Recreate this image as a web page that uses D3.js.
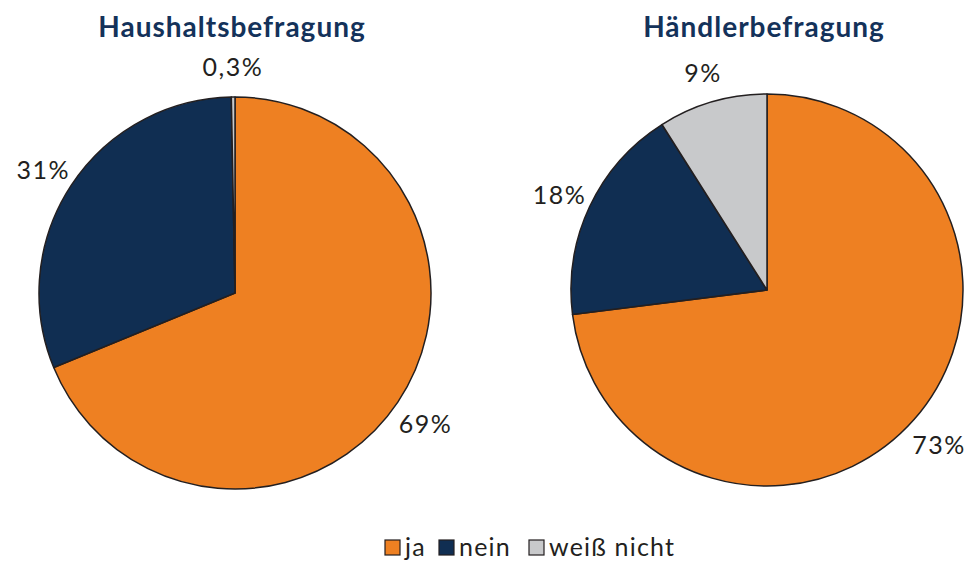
<!DOCTYPE html>
<html>
<head>
<meta charset="utf-8">
<script src="https://cdn.jsdelivr.net/npm/d3@7"></script>
<style>
  body { margin: 0; background: #fff; }
  text { font-family: Lato, "Noto Sans", sans-serif; }
</style>
</head>
<body>
<div id="chart"></div>
<script>
const categories = ['ja', 'nein', 'weiß nicht'];
const titles = ['Haushaltsbefragung', 'Händlerbefragung'];
const haushaltValues = [69, 31, 0.3];
const haendlerValues = [73, 18, 9];
const haushaltLabels = ['69%', '31%', '0,3%'];
const haendlerLabels = ['73%', '18%', '9%'];
const colors = ['#ee8022', '#102e52', '#c8c9cb'];

const width = 973;
const height = 561;
const radius = 196;

const svg = d3.select('#chart').append('svg')
  .attr('width', width)
  .attr('height', height);

const color = d3.scaleOrdinal()
  .domain(categories)
  .range(colors);

const pie = d3.pie()
  .sort(null)
  .value(d => d.value);

const arc = d3.arc()
  .innerRadius(0)
  .outerRadius(radius);

const labelArc = d3.arc()
  .innerRadius(radius * 1.17)
  .outerRadius(radius * 1.17);

const charts = [
  {title: titles[0], values: haushaltValues, labels: haushaltLabels, cx: 235, cy: 293},
  {title: titles[1], values: haendlerValues, labels: haendlerLabels, cx: 767, cy: 290}
];

charts.forEach(chart => {
  const data = categories.map((c, i) => ({key: c, value: chart.values[i], label: chart.labels[i]}));

  svg.append('text')
    .attr('x', chart.cx - 3)
    .attr('y', 37)
    .attr('text-anchor', 'middle')
    .attr('font-size', 28)
    .attr('font-weight', 'bold')
    .attr('letter-spacing', 1)
    .attr('fill', '#14325a')
    .text(chart.title);

  const g = svg.append('g')
    .attr('transform', 'translate(' + chart.cx + ',' + chart.cy + ')');

  const arcs = pie(data);

  g.selectAll('path')
    .data(arcs)
    .enter()
    .append('path')
    .attr('d', arc)
    .attr('fill', d => color(d.data.key))
    .attr('stroke', '#231f20')
    .attr('stroke-width', 1.5)
    .attr('stroke-linejoin', 'round');

  g.selectAll('.label')
    .data(arcs)
    .enter()
    .append('text')
    .attr('class', 'label')
    .attr('transform', d => {
      const [x, y] = labelArc.centroid(d);
      return 'translate(' + x + ',' + (y + 12) + ')';
    })
    .attr('text-anchor', 'middle')
    .attr('font-size', 25)
    .attr('letter-spacing', 1.5)
    .attr('fill', '#231f20')
    .text(d => d.data.label);
});

// legend
const legendX = [385, 439, 529];
const legend = svg.append('g')
  .attr('transform', 'translate(0,540)');

const item = legend.selectAll('g')
  .data(categories)
  .enter()
  .append('g')
  .attr('transform', (d, i) => 'translate(' + legendX[i] + ',0)');

item.append('rect')
  .attr('width', 15)
  .attr('height', 15)
  .attr('fill', d => color(d))
  .attr('stroke', '#231f20')
  .attr('stroke-width', 1.2);

item.append('text')
  .attr('x', 20)
  .attr('y', 16)
  .attr('font-size', 25)
  .attr('letter-spacing', 1.2)
  .attr('fill', '#231f20')
  .text(d => d);
</script>
</body>
</html>
